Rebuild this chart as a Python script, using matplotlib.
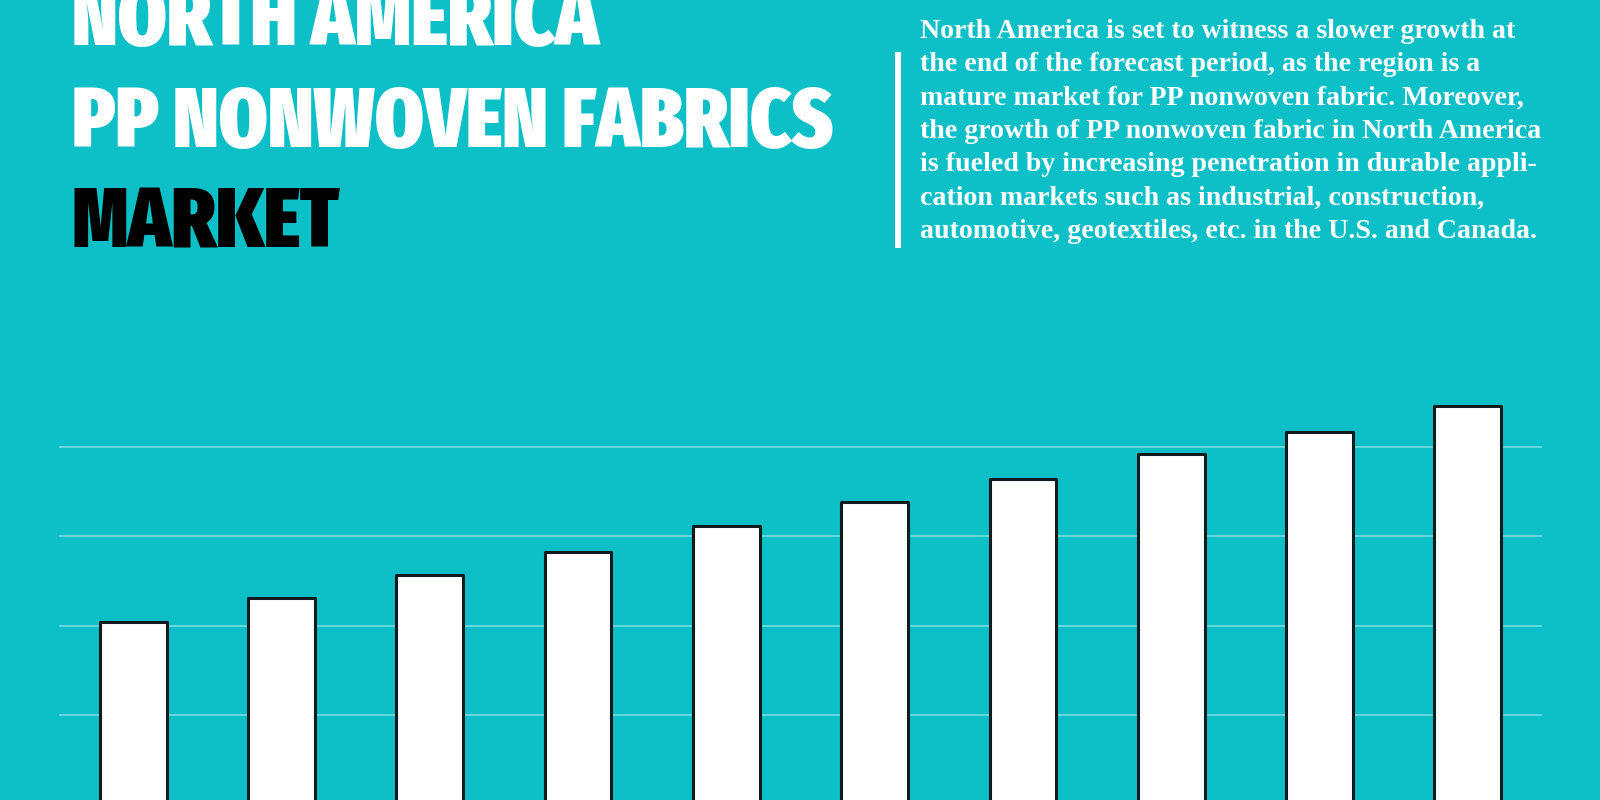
import matplotlib
matplotlib.use("Agg")
import matplotlib.pyplot as plt
from matplotlib.patches import Rectangle

# data (bars are cut off at the bottom, units unknown)
years = [2017, 2018, 2019, 2020, 2021, 2022, 2023, 2024, 2025, 2026]
values = [3.04, 3.31, 3.57, 3.83, 4.12, 4.38, 4.64, 4.92, 5.17, 5.46]
grid_vals = [2, 3, 4, 5]

title_lines = ["NORTH AMERICA", "PP NONWOVEN FABRICS", "MARKET"]
title_colors = ["white", "white", "black"]
desc_lines = [
    "North America is set to witness a slower growth at",
    "the end of the forecast period, as the region is a",
    "mature market for PP nonwoven fabric. Moreover,",
    "the growth of PP nonwoven fabric in North America",
    "is fueled by increasing penetration in durable appli-",
    "cation markets such as industrial, construction,",
    "automotive, geotextiles, etc. in the U.S. and Canada.",
]

bg = "#0dbfc7"
W, H = 1600, 800
title_font = "Fira Sans Extra Condensed"

fig = plt.figure(figsize=(16, 8), dpi=100)
fig.patch.set_facecolor(bg)

# chart area: left/right from gridline ends, bottom runs off the figure
ax = fig.add_axes([59 / W, 0, (1542 - 59) / W, (800 - 380) / H])
ax.set_facecolor(bg)
ax.bar(range(len(years)), values, width=0.45, color="white",
       edgecolor="#111a1c", linewidth=2.2, joinstyle="round", zorder=3)
ax.set_xlim(-0.5, len(years) - 0.5)
ax.set_ylim(1.051, 5.749)
ax.set_yticks(grid_vals)
ax.yaxis.grid(True, color="#7fdfe6", linewidth=1.1)
ax.set_axisbelow(True)
ax.tick_params(left=False, bottom=False, labelleft=False, labelbottom=False)
for s in ax.spines.values():
    s.set_visible(False)

fig.canvas.draw()
r = fig.canvas.get_renderer()

# title, fitted so the longest line spans about 762 px
title_base = [45, 146.7, 248]
probe = fig.text(0, 0, title_lines[1], fontsize=60, family=title_font,
                 fontweight=900)
tw = probe.get_window_extent(r).width
probe.remove()
tsize = 60 * 762 / tw
for line, c, yb in zip(title_lines, title_colors, title_base):
    fig.text(72 / W, 1 - yb / H, line, fontsize=tsize, family=title_font,
             fontweight=900, color=c, va="baseline", ha="left")

# description block
probe = fig.text(0, 0, desc_lines[3], fontsize=18, family="Liberation Serif",
                 fontweight="bold")
dw = probe.get_window_extent(r).width
probe.remove()
dsize = 18 * 620 / dw
for i, line in enumerate(desc_lines):
    fig.text(920 / W, 1 - (38 + 33.3 * i) / H, line, fontsize=dsize,
             family="Liberation Serif", fontweight="bold", color="white",
             va="baseline", ha="left")

fig.add_artist(Rectangle((895 / W, 1 - 248 / H), 6 / W, 196 / H,
                         transform=fig.transFigure, color="white", lw=0))

fig.savefig("out.png", dpi=100, facecolor=bg)
